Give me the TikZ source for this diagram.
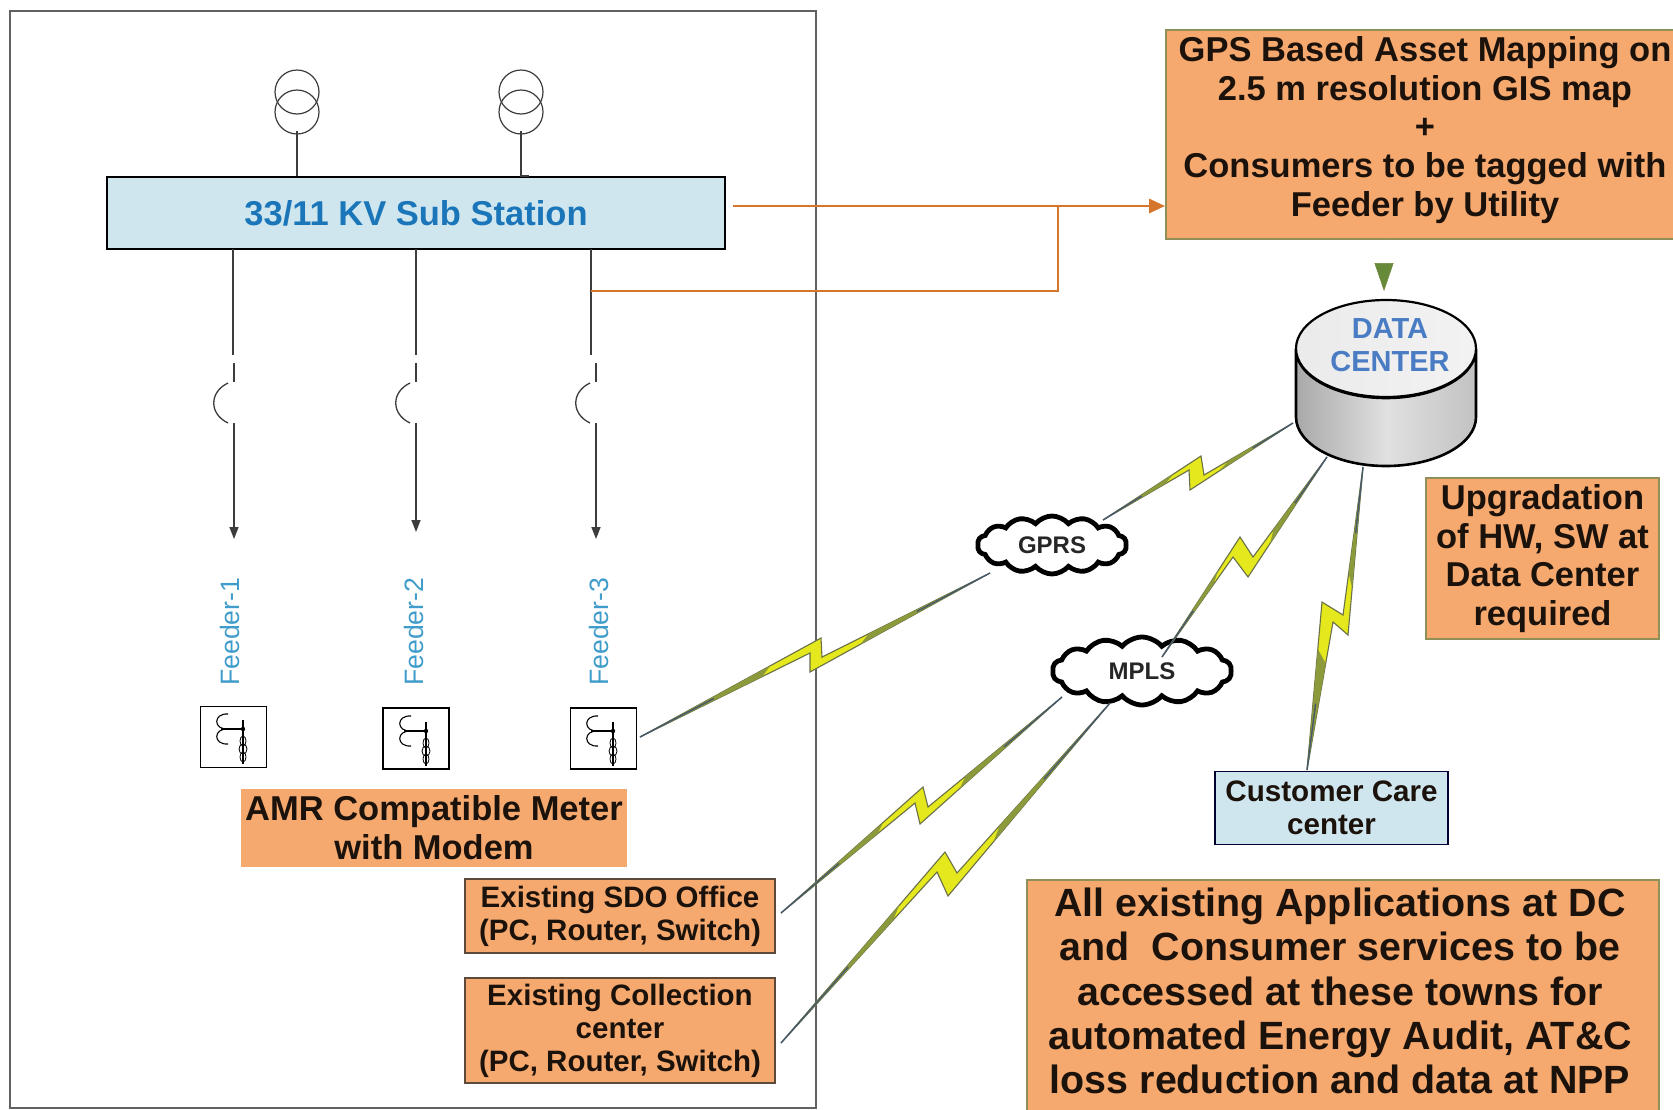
\documentclass[tikz,border=0pt]{standalone}
\usepackage{fontspec}
\setmainfont{Liberation Sans}
\usetikzlibrary{arrows.meta,shapes.symbols,calc}
\definecolor{boxorange}{HTML}{F6A96E}
\definecolor{olivebd}{HTML}{8E9058}
\definecolor{brownbd}{HTML}{5C4A3A}
\definecolor{inktext}{HTML}{1C120C}
\definecolor{lightblue}{HTML}{CFE6EF}
\definecolor{subblue}{HTML}{1A76B8}
\definecolor{feederblue}{HTML}{3F9CCB}
\definecolor{dcblue}{HTML}{4A7CC4}
\definecolor{wireorange}{HTML}{D5762C}
\definecolor{arrowgreen}{HTML}{678A3A}
\definecolor{boltyellow}{HTML}{E4E81C}
\definecolor{boltedge}{HTML}{6A7048}
\definecolor{boltolive}{HTML}{8C9A3C}
\definecolor{boltslate}{HTML}{46586C}
\definecolor{wiregray}{HTML}{3C3C3C}
\tikzset{
  rectbox/.style={rectangle,draw,inner sep=0pt,align=center,text=inktext,font=\bfseries},
  orangebox/.style={rectbox,fill=boxorange,draw=olivebd,line width=1.8pt},
  officebox/.style={rectbox,fill=boxorange,draw=brownbd,line width=1.6pt,font=\bfseries\fontsize{29.5}{33}\selectfont},
  bigtext/.style={font=\bfseries\fontsize{34.5}{38.7}\selectfont},
  plaintext/.style={inner sep=0pt,align=center,text=inktext},
  netcloud/.style={cloud,cloud puffs=14,cloud puff arc=100,aspect=2.5,draw=black,fill=white,line width=4.8pt,inner sep=0pt,text=black!85,font=\bfseries\fontsize{24}{28}\selectfont},
  meterbox/.style={rectangle,draw=black,line width=1.6pt,fill=white,inner sep=0pt,minimum width=66pt,minimum height=61pt},
  wire/.style={draw=wiregray,line width=1.6pt},
  feederlabel/.style={rotate=90,anchor=west,inner sep=0pt,text=feederblue,font=\fontsize{26.6}{30}\selectfont},
  orangewire/.style={draw=wireorange,line width=2.8pt},
  boltshape/.style={fill=boltyellow,draw=boltedge,line width=1.1pt,line join=miter}
}
% feeder: x of upper part, x of lower part, y of tip, name
\newcommand{\feederline}[4]{%
  \coordinate (#4top) at (#1,249);
  \coordinate (#4tip) at (#2,#3);
  \draw[wire] (#4top) -- (#1,355);
  \draw[wire] (#2,363) -- (#2,382);
  \draw[wire,line width=1.3pt] (#2-6,383) .. controls (#2-25,392) and (#2-25,414) .. (#2-6,423);
  \draw[wire,-{Triangle[length=12pt,width=9pt]}] (#2,423) -- (#4tip);
}
\newcommand{\metericon}[2]{%
  \begin{scope}[shift={(#1,#2)},line width=1.1pt,draw=black]
    \draw (28,8) .. controls (13,7) and (13,24) .. (28,23);
    \draw (28,23) .. controls (13,22) and (13,39) .. (28,38);
    \draw (21,23) -- (43,23);
    \draw[line width=1.4pt] (43,14) -- (43,58);
    \fill (43,23) circle (2.2pt);
    \draw[line width=0.8pt] (43,35) ellipse [x radius=3,y radius=5];
    \draw[line width=0.8pt] (43,43) ellipse [x radius=4,y radius=5];
    \draw[line width=0.8pt] (43,51) ellipse [x radius=3,y radius=5];
  \end{scope}
}
% bolt: A, N1, P, B, N3, N2
\newcommand{\boltpath}[6]{%
  \draw[boltshape] (#4) -- (#3) -- (#2) -- (#1) -- (#6) -- (#5) -- cycle;
  \fill[boltolive] (#1) -- ($(#1)!.72!(#2)$) -- ($(#1)!.72!(#6)$) -- cycle;
  \fill[boltolive] (#4) -- ($(#4)!.72!(#3)$) -- ($(#4)!.72!(#5)$) -- cycle;
  \draw[boltslate,line width=1.4pt] (#1) -- ($(#1)!.42!($(#2)!.5!(#6)$)$);
  \draw[boltslate,line width=1.4pt] (#4) -- ($(#4)!.42!($(#3)!.5!(#5)$)$);
}
\begin{document}
\begin{tikzpicture}[x=1pt,y=-1pt]
\useasboundingbox (0,0) rectangle (1673,1109);
\fill[white] (0,0) rectangle (1673,1109);

% outer frame
\node[rectangle,draw=black!62,line width=2pt,minimum width=806pt,minimum height=1097pt,inner sep=0pt] (frame) at (413,559.5) {};

% transformers
\coordinate (t1base) at (297,131);
\coordinate (t2base) at (521,131);
\foreach \tx in {297,521}{
  \draw[line width=1.2pt,draw=wiregray] (\tx,92) circle (22pt);
  \draw[line width=1.2pt,draw=wiregray] (\tx,112) circle (22pt);
}

% bus
\node[rectangle,draw=black,line width=2.6pt,fill=lightblue,minimum width=618pt,minimum height=72pt,inner sep=0pt,text=subblue,font=\bfseries\fontsize{34.5}{38}\selectfont] (bus) at (416,213) {33/11 KV Sub Station};
\draw[wire] (t1base) -- (t1base |- bus.north);
\draw[wire] (t2base) -- (t2base |- bus.north) -- ++(8,0);

% feeders
\feederline{233}{234}{539}{fa}
\feederline{416}{416}{532}{fb}
\feederline{591}{596}{539}{fc}
\node[feederlabel] (f1) at (230,686) {Feeder-1};
\node[feederlabel] (f2) at (414,686) {Feeder-2};
\node[feederlabel] (f3) at (599,686) {Feeder-3};

% meters
\node[meterbox] (m1) at (233.5,737) {};
\node[meterbox] (m2) at (416,738.5) {};
\node[meterbox] (m3) at (603.5,738.5) {};
\metericon{200}{706}
\metericon{383}{708}
\metericon{570}{708}

% orange text boxes on the left
\node[rectbox,fill=boxorange,draw=none,bigtext,minimum width=386pt,minimum height=78pt] (amr) at (434,828) {AMR Compatible Meter\\with Modem};
\node[officebox,minimum width=310pt,minimum height=74pt] (sdo) at (620,916) {Existing SDO Office\\(PC, Router, Switch)};
\node[officebox,minimum width=310pt,minimum height=105pt] (coll) at (620,1030.5) {Existing Collection\\center\\(PC, Router, Switch)};

% top right box
\node[orangebox,minimum width=518pt,minimum height=209pt] (gps) at (1425,134.5) {};
\node[plaintext,bigtext] (gpstext) at (1425,130) {GPS Based Asset Mapping on\\2.5 m resolution GIS map\\+\\Consumers to be tagged with\\Feeder by Utility};

% orange connectors
\coordinate (busout) at (733,206);
\coordinate (tapfc) at (591,291);
\coordinate (join) at (1058,206);
\draw[orangewire,-{Triangle[length=16pt,width=14pt]}] (busout) -- (gps.west |- busout);
\draw[orangewire] (tapfc) -- (join |- tapfc) -- (join);

% data center
\path[left color=black!34,right color=black!24,middle color=black!12,draw=black,line width=2.6pt]
  (1296,349) -- (1296,417) arc[start angle=180,end angle=0,x radius=90,y radius=49] -- (1476,349) arc[start angle=0,end angle=180,x radius=90,y radius=49] -- cycle;
\path[left color=black!8,right color=black!5,draw=black,line width=2.2pt] (1386,348.5) ellipse [x radius=90,y radius=48.5];
\node[inner sep=0pt,align=center,text=dcblue,font=\bfseries\fontsize{29}{32.5}\selectfont] (dc) at (1390,345) {DATA\\CENTER};
\coordinate (dctip) at (1384,291);
\draw[white,line width=0.5pt,-{Triangle[length=28pt,width=19pt,color=arrowgreen,fill=arrowgreen]}] (gps.south -| dctip) -- (dctip);

% other boxes
\node[orangebox,bigtext,minimum width=233pt,minimum height=161pt] (upg) at (1542.5,558.5) {Upgradation\\of HW, SW at\\Data Center\\required};
\node[rectbox,fill=lightblue,draw=black!80!blue,line width=1.8pt,minimum width=233pt,minimum height=73pt,font=\bfseries\fontsize{29.6}{33}\selectfont] (care) at (1331.5,808) {Customer Care\\center};
\node[orangebox,minimum width=632pt,minimum height=246pt] (apps) at (1343,1003) {};
\node[plaintext,font=\bfseries\fontsize{39.4}{44.2}\selectfont] (appstext) at (1340,991) {All existing Applications at DC\\and\ \ Consumer services to be\\accessed at these towns for\\automated Energy Audit, AT\&C\\loss reduction and data at NPP};

% clouds
\node[netcloud,minimum width=149pt,minimum height=58pt] (gprs) at (1052,545) {GPRS};
\node[netcloud,minimum width=179pt,minimum height=68pt] (mpls) at (1142,671) {MPLS};

% radio links: tapered bolts
\coordinate (dcw) at (1293,423);
\coordinate (dcs) at (1327,457);
\coordinate (dcb) at (1363,467);
\coordinate (gprsne) at (1103,520);
\coordinate (gprssw) at (990,573);
\coordinate (mplsn) at (1162,657);
\coordinate (mplssw) at (1062,697);
\coordinate (mplss) at (1110,703);
\coordinate (m3e) at (640,737);
\coordinate (sdoe) at (781,913);
\coordinate (colle) at (781,1043);
\coordinate (caren) at (1307,770);
\boltpath{dcw}{1204,475}{1201,456}{gprsne}{1189,470}{1190,490}
\boltpath{gprssw}{822,657}{821,638}{m3e}{810,653}{810,672}
\boltpath{dcs}{1253,557}{1240,537}{mplsn}{1233,557}{1248,577}
\boltpath{dcb}{1343,615}{1322,602}{caren}{1333,622}{1348,635}
\boltpath{mplssw}{928,807}{923,787}{sdoe}{915,803}{920,824}
\boltpath{mplss}{957,873}{945,852}{colle}{937,872}{948,896}
\end{tikzpicture}
\end{document}
